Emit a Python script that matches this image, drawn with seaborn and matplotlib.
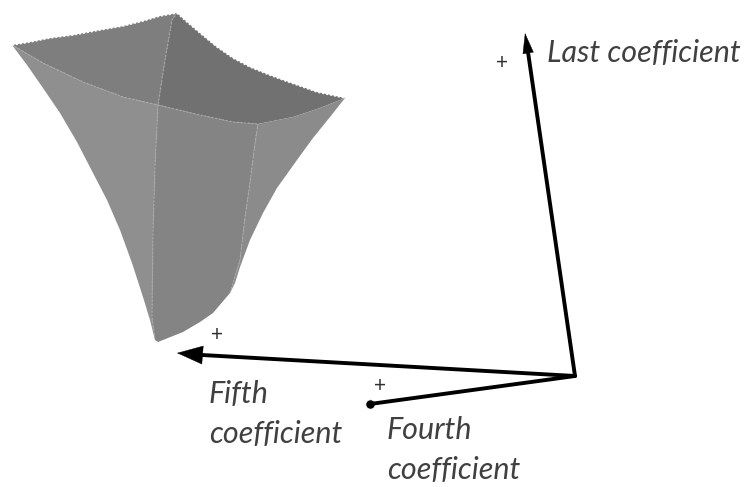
import matplotlib
matplotlib.use('Agg')
import matplotlib.pyplot as plt
import seaborn as sns

sns.set_theme(style='white')
plt.rcParams['font.family'] = ['Lato', 'DejaVu Sans']

# outline and ridges of the surface, in picture coordinates
left_x = [12, 27, 43, 60, 77, 93, 107, 120, 132, 143, 150, 155]
left_y = [45, 65, 88, 113, 142, 173, 200, 230, 263, 297, 320, 340]
bottom_x = [155, 158, 183, 200, 213, 230]
bottom_y = [340, 342, 332, 322, 313, 293]
right_x = [230, 235, 240, 250, 263, 277, 297, 313, 330, 345]
right_y = [293, 283, 267, 240, 213, 188, 160, 138, 117, 98]
top_left_x = [12, 30, 50, 73, 100, 123, 143, 160, 177]
top_left_y = [45, 42, 38, 35, 30, 26, 21, 16, 13]
top_right_x = [177, 187, 200, 217, 233, 250, 267, 283, 300, 317, 345]
top_right_y = [13, 22, 33, 47, 58, 67, 74, 80, 86, 92, 98]
back_x = [12, 43, 83, 123, 158]
back_y = [45, 63, 82, 97, 105]
front_x = [158, 200, 233, 258]
front_y = [105, 115, 122, 124]
side_x = [258, 293, 320, 345]
side_y = [124, 117, 108, 98]
apex_x = [177, 172, 165, 158]
apex_y = [13, 20, 60, 105]
mid_x = [158, 155, 153, 152, 155]
mid_y = [105, 167, 233, 317, 340]
edge_x = [258, 255, 250, 245, 240, 230]
edge_y = [124, 143, 183, 217, 260, 293]

origin = (575, 376)
last_tip = (525, 33)
last_base = (528, 52)
fifth_tip = (177, 353)
fifth_base = (202, 355)
fourth_tip = (370, 404)

plus_x = [502, 217, 380]
plus_y = [63, 335, 386]
labels = ['Last coefficient', 'Fifth', 'coefficient', 'Fourth', 'coefficient']
label_x = [547, 209, 209, 387, 387]
label_y = [62, 403, 443, 439, 479]

fig, ax = plt.subplots(figsize=(7.46, 4.87), dpi=100)
fig.subplots_adjust(0, 0, 1, 1)
ax.set_xlim(0, 746)
ax.set_ylim(487, 0)
ax.axis('off')

# faces
ax.fill(top_left_x + apex_x[1:] + back_x[::-1], top_left_y + apex_y[1:] + back_y[::-1], color='#7e7e7e', lw=0)
ax.fill(top_right_x + side_x[::-1] + front_x[::-1] + apex_x[::-1],
        top_right_y + side_y[::-1] + front_y[::-1] + apex_y[::-1], color='#717171', lw=0)
ax.fill(back_x + mid_x + left_x[::-1], back_y + mid_y + left_y[::-1], color='#8f8f8f', lw=0)
ax.fill(front_x + edge_x + bottom_x[::-1] + mid_x[::-1], front_y + edge_y + bottom_y[::-1] + mid_y[::-1],
        color='#848484', lw=0)
ax.fill(side_x + right_x[::-1] + edge_x[::-1], side_y + right_y[::-1] + edge_y[::-1], color='#8b8b8b', lw=0)

for xs, ys in [(back_x, back_y), (front_x, front_y), (apex_x, apex_y), (mid_x, mid_y), (edge_x, edge_y)]:
    sns.lineplot(x=xs, y=ys, sort=False, estimator=None, color='#a8a8a8', lw=1.0, ls=':', ax=ax)
# saw-tooth along the top rim
for xs, ys in [(top_left_x, top_left_y), (top_right_x, top_right_y)]:
    sns.lineplot(x=xs, y=ys, sort=False, estimator=None, color='white', lw=1.2, ls=(0, (1.2, 1.2)), ax=ax)

# coefficient directions
for base in [last_base, fifth_base]:
    sns.lineplot(x=[origin[0], base[0]], y=[origin[1], base[1]], sort=False, estimator=None,
                 color='black', lw=2.8, ax=ax)
ax.annotate('', xy=last_tip, xytext=last_base, arrowprops=dict(arrowstyle='-|>,head_length=14,head_width=3.8',
            color='black', lw=0.3, shrinkA=0, shrinkB=0, mutation_scale=1))
ax.annotate('', xy=fifth_tip, xytext=fifth_base, arrowprops=dict(arrowstyle='-|>,head_length=18,head_width=6.5',
            color='black', lw=0.3, shrinkA=0, shrinkB=0, mutation_scale=1))
sns.lineplot(x=[origin[0], fourth_tip[0]], y=[origin[1], fourth_tip[1]], sort=False, estimator=None,
             color='black', lw=2.8, ax=ax)
sns.scatterplot(x=[fourth_tip[0]], y=[fourth_tip[1]], color='black', s=45, ax=ax)

for x, y in zip(plus_x, plus_y):
    ax.text(x, y, '+', fontsize=15, color='#303030', ha='center', va='center')
for s, x, y in zip(labels, label_x, label_y):
    ax.text(x, y, s, fontsize=22, style='italic', color='#404040', ha='left', va='baseline')

fig.savefig('out.png', dpi=100)
